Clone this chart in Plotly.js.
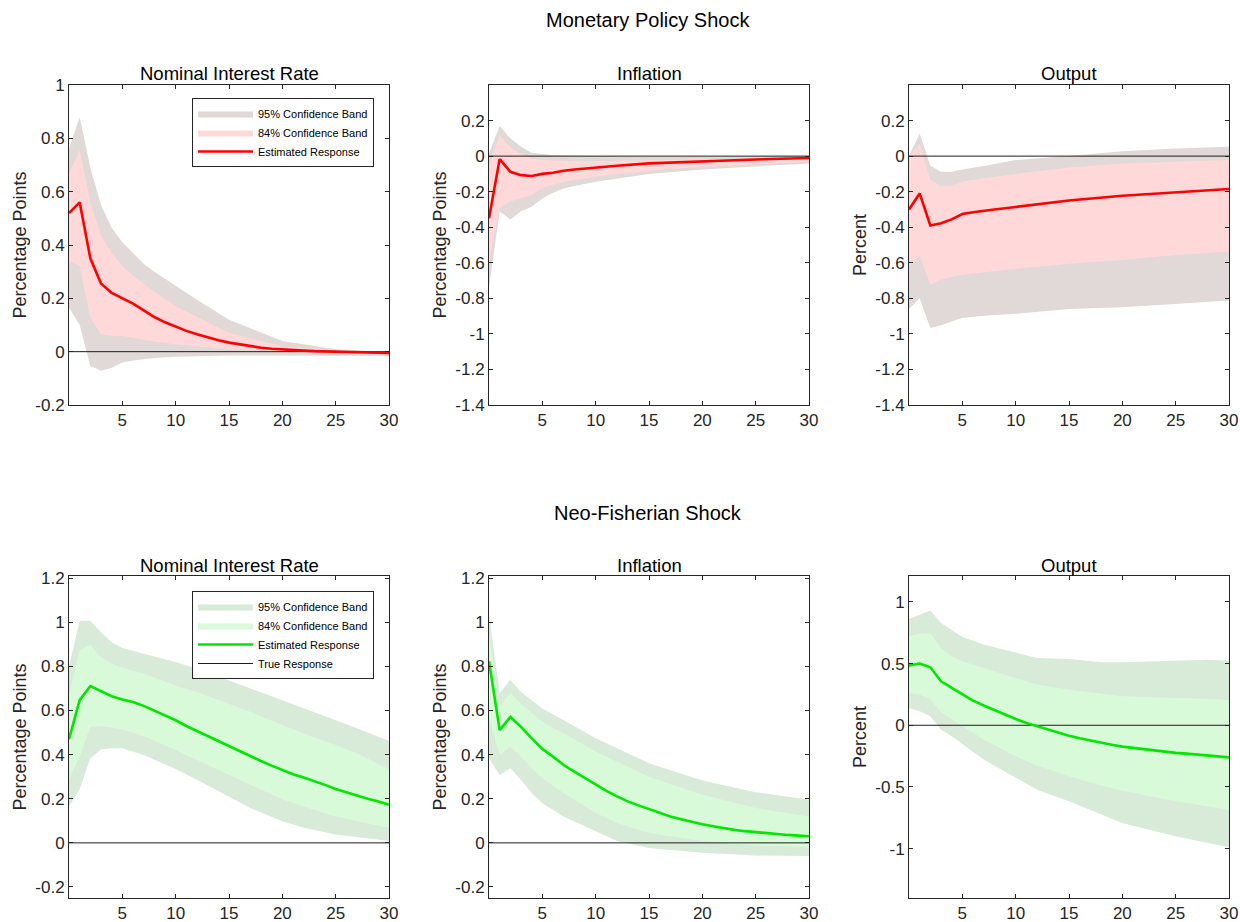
<!DOCTYPE html>
<html>
<head>
<meta charset="utf-8">
<script src="https://cdn.plot.ly/plotly-3.0.1.min.js"></script>
<style>html,body{margin:0;padding:0;background:#fff;}#chart{width:1240px;height:922px;}</style>
</head>
<body>
<div id="chart"></div>
<script>
// ---------- DATA ----------
var horizonsFull = [0,1,2,3,4,5,6,7,8,9,10,11,12,13,14,15,16,17,18,19,20,21,22,23,24,25,26,27,28,29,30];
var xTickVals = [5,10,15,20,25,30];
var xTickText = ["5","10","15","20","25","30"];

// Monetary Policy Shock - Nominal Interest Rate
var mpNirLineH = horizonsFull;
var mpNirLine = [0.52,0.56,0.35,0.256,0.22,0.2,0.18,0.155,0.13,0.11,0.094,0.078,0.065,0.053,0.043,0.034,0.027,0.02,0.015,0.011,0.008,0.006,0.004,0.002,0.001,0,-0.001,-0.002,-0.003,-0.004,-0.005];
var mpNirBandH = [0,1,2,3,4,5,6,7,8,10,12,15,20,25,30];
var mpNirUp95 = [0.76,0.88,0.69,0.55,0.465,0.41,0.37,0.33,0.3,0.246,0.195,0.12,0.04,0.009,0.0];
var mpNirUp84 = [0.665,0.756,0.56,0.434,0.37,0.32,0.285,0.255,0.225,0.17,0.13,0.07,0.02,0.003,-0.002];
var mpNirLo84 = [0.34,0.32,0.128,0.065,0.06,0.059,0.052,0.045,0.038,0.028,0.02,0.01,0.0,-0.004,-0.006];
var mpNirLo95 = [0.165,0.10,-0.054,-0.072,-0.06,-0.041,-0.033,-0.028,-0.024,-0.019,-0.016,-0.014,-0.014,-0.014,-0.016];

// Monetary Policy Shock - Inflation
var mpInfLineH = [0,1,2,3,4,5,6,7,8,10,12,15,20,25,30];
var mpInfLine = [-0.35,-0.017,-0.088,-0.107,-0.112,-0.10,-0.094,-0.082,-0.075,-0.064,-0.054,-0.041,-0.028,-0.019,-0.011];
var mpInfBandH = [0,1,2,3,4,5,6,7,8,10,12,15,20,25,30];
var mpInfUp95 = [0.015,0.17,0.10,0.052,0.019,0.01,0.005,0.003,0.002,0.0,-0.002,-0.003,-0.003,-0.002,0.0];
var mpInfUp84 = [-0.05,0.118,0.05,0.01,-0.013,-0.022,-0.025,-0.027,-0.028,-0.028,-0.026,-0.022,-0.017,-0.013,-0.01];
var mpInfLo84 = [-0.6,-0.29,-0.256,-0.238,-0.219,-0.18,-0.163,-0.144,-0.135,-0.116,-0.103,-0.082,-0.06,-0.045,-0.032];
var mpInfLo95 = [-0.74,-0.31,-0.356,-0.31,-0.285,-0.238,-0.206,-0.182,-0.168,-0.144,-0.125,-0.101,-0.075,-0.056,-0.041];

// Monetary Policy Shock - Output
var mpOutLineH = [0,1,2,3,4,5,6,7,8,10,12,15,20,25,30];
var mpOutLine = [-0.30,-0.21,-0.39,-0.378,-0.356,-0.326,-0.316,-0.307,-0.30,-0.286,-0.27,-0.25,-0.223,-0.204,-0.185];
var mpOutBandH = [0,1,2,3,4,5,7,10,15,20,25,30];
var mpOutUp95 = [0.0,0.127,-0.054,-0.088,-0.088,-0.075,-0.056,-0.022,0.0,0.028,0.043,0.052];
var mpOutUp84 = [-0.004,0.07,-0.135,-0.168,-0.165,-0.144,-0.125,-0.10,-0.064,-0.041,-0.032,-0.022];
var mpOutLo84 = [-0.62,-0.56,-0.724,-0.696,-0.68,-0.668,-0.655,-0.634,-0.606,-0.584,-0.556,-0.537];
var mpOutLo95 = [-0.86,-0.80,-0.967,-0.952,-0.93,-0.911,-0.898,-0.887,-0.86,-0.85,-0.83,-0.812];

// Neo-Fisherian Shock - Nominal Interest Rate
var nfNirLineH = horizonsFull;
var nfNirLine = [0.47,0.647,0.711,0.687,0.665,0.65,0.639,0.621,0.60,0.579,0.556,0.53,0.507,0.484,0.462,0.44,0.415,0.394,0.371,0.35,0.331,0.311,0.296,0.28,0.263,0.244,0.229,0.215,0.2,0.188,0.173];
var nfNirBandH = [0,1,2,3,4,5,7,10,12,15,17,20,22,25,27,30];
var nfNirUp95 = [0.80,1.007,1.007,0.955,0.91,0.884,0.857,0.82,0.79,0.737,0.70,0.647,0.61,0.556,0.52,0.462];
var nfNirUp84 = [0.67,0.875,0.898,0.842,0.812,0.794,0.767,0.714,0.684,0.632,0.594,0.534,0.496,0.444,0.406,0.334];
var nfNirLo84 = [0.286,0.39,0.526,0.53,0.522,0.514,0.484,0.421,0.376,0.308,0.263,0.198,0.165,0.12,0.098,0.068];
var nfNirLo95 = [0.165,0.244,0.383,0.424,0.429,0.429,0.398,0.335,0.286,0.21,0.158,0.098,0.068,0.038,0.027,0.008];

// Neo-Fisherian Shock - Inflation
var nfInfLineH = horizonsFull;
var nfInfLine = [0.824,0.511,0.571,0.526,0.474,0.426,0.391,0.353,0.323,0.293,0.263,0.236,0.211,0.188,0.17,0.153,0.135,0.12,0.107,0.095,0.084,0.075,0.066,0.059,0.053,0.048,0.044,0.039,0.036,0.033,0.03];
var nfInfBandH = [0,1,2,3,4,5,7,10,12,15,20,25,30];
var nfInfUp95 = [1.04,0.677,0.74,0.684,0.647,0.609,0.556,0.474,0.429,0.361,0.283,0.23,0.195];
var nfInfUp84 = [0.95,0.617,0.68,0.632,0.59,0.549,0.496,0.414,0.368,0.30,0.218,0.158,0.12];
var nfInfLo84 = [0.57,0.398,0.436,0.39,0.338,0.293,0.226,0.135,0.09,0.045,0.008,-0.012,-0.018];
var nfInfLo95 = [0.383,0.308,0.338,0.286,0.226,0.18,0.12,0.053,0.008,-0.023,-0.045,-0.057,-0.06];

// Neo-Fisherian Shock - Output
var nfOutLineH = horizonsFull;
var nfOutLine = [0.484,0.5,0.47,0.357,0.303,0.249,0.2,0.16,0.122,0.084,0.051,0.019,-0.008,-0.035,-0.062,-0.084,-0.105,-0.124,-0.14,-0.157,-0.173,-0.184,-0.197,-0.208,-0.216,-0.224,-0.23,-0.238,-0.246,-0.251,-0.26];
var nfOutBandH = [0,1,2,3,4,5,7,10,12,15,18,20,25,28,30];
var nfOutUp95 = [0.862,0.897,0.93,0.83,0.77,0.716,0.654,0.586,0.546,0.538,0.51,0.51,0.527,0.532,0.524];
var nfOutUp84 = [0.722,0.743,0.743,0.627,0.56,0.519,0.465,0.384,0.33,0.289,0.254,0.235,0.222,0.215,0.203];
var nfOutLo84 = [0.262,0.249,0.208,0.105,0.051,-0.008,-0.116,-0.251,-0.327,-0.414,-0.489,-0.53,-0.616,-0.657,-0.689];
var nfOutLo95 = [0.14,0.114,0.073,-0.035,-0.089,-0.151,-0.278,-0.427,-0.522,-0.616,-0.724,-0.792,-0.9,-0.954,-0.986];

// True response (zero line)
var trueH = [0,30];
var trueResp = [0,0];

// Y tick labels
var yTickValsA = [-0.2,0,0.2,0.4,0.6,0.8,1];
var yTickTextA = ["-0.2","0","0.2","0.4","0.6","0.8","1"];
var yTickValsB = [-1.4,-1.2,-1,-0.8,-0.6,-0.4,-0.2,0,0.2];
var yTickTextB = ["-1.4","-1.2","-1","-0.8","-0.6","-0.4","-0.2","0","0.2"];
var yTickValsC = [-0.2,0,0.2,0.4,0.6,0.8,1,1.2];
var yTickTextC = ["-0.2","0","0.2","0.4","0.6","0.8","1","1.2"];
var yTickValsD = [-1,-0.5,0,0.5,1];
var yTickTextD = ["-1","-0.5","0","0.5","1"];

// ---------- BUILD ----------
var FONT = "Liberation Sans, Arial, Helvetica, sans-serif";
var red = {c95: "rgb(225,216,216)", c84: "rgb(255,217,217)", line: "rgb(255,0,0)"};
var green = {c95: "rgb(216,234,216)", c84: "rgb(217,250,217)", line: "rgb(0,230,0)"};

function poly(h, up, lo) {
  var x = h.slice().concat(h.slice().reverse());
  var y = up.slice().concat(lo.slice().reverse());
  return {x: x, y: y};
}

var traces = [];
function panel(n, lineH, line, bandH, up95, up84, lo84, lo95, pal, legendName, showLeg, showTrue) {
  var xa = n === 1 ? "x" : "x" + n;
  var ya = n === 1 ? "y" : "y" + n;
  var p95 = poly(bandH, up95, lo95);
  var p84 = poly(bandH, up84, lo84);
  traces.push({x: p95.x, y: p95.y, xaxis: xa, yaxis: ya, type: "scatter", mode: "lines",
    fill: "toself", fillcolor: pal.c95, line: {width: 0, color: pal.c95},
    name: "95% Confidence Band", showlegend: showLeg, legend: legendName, legendrank: 1, hoverinfo: "skip"});
  traces.push({x: p84.x, y: p84.y, xaxis: xa, yaxis: ya, type: "scatter", mode: "lines",
    fill: "toself", fillcolor: pal.c84, line: {width: 0, color: pal.c84},
    name: "84% Confidence Band", showlegend: showLeg, legend: legendName, legendrank: 2, hoverinfo: "skip"});
  traces.push({x: trueH, y: trueResp, xaxis: xa, yaxis: ya, type: "scatter", mode: "lines",
    line: {width: 1, color: "rgb(30,30,30)"},
    name: "True Response", showlegend: showLeg && showTrue, legend: legendName, legendrank: 4, hoverinfo: "skip"});
  traces.push({x: lineH, y: line, xaxis: xa, yaxis: ya, type: "scatter", mode: "lines",
    line: {width: 2.6, color: pal.line},
    name: "Estimated Response", showlegend: showLeg, legend: legendName, legendrank: 3, hoverinfo: "skip"});
}

panel(1, mpNirLineH, mpNirLine, mpNirBandH, mpNirUp95, mpNirUp84, mpNirLo84, mpNirLo95, red, "legend", true, false);
panel(2, mpInfLineH, mpInfLine, mpInfBandH, mpInfUp95, mpInfUp84, mpInfLo84, mpInfLo95, red, "legend", false, false);
panel(3, mpOutLineH, mpOutLine, mpOutBandH, mpOutUp95, mpOutUp84, mpOutLo84, mpOutLo95, red, "legend", false, false);
panel(4, nfNirLineH, nfNirLine, nfNirBandH, nfNirUp95, nfNirUp84, nfNirLo84, nfNirLo95, green, "legend2", true, true);
panel(5, nfInfLineH, nfInfLine, nfInfBandH, nfInfUp95, nfInfUp84, nfInfLo84, nfInfLo95, green, "legend2", false, true);
panel(6, nfOutLineH, nfOutLine, nfOutBandH, nfOutUp95, nfOutUp84, nfOutLo84, nfOutLo95, green, "legend2", false, true);

var W = 1240, H = 922;
var colX = [[69, 389], [489, 809], [909, 1229]];
var rowY = [[85, 405], [576, 898]];
function dx(c) { return [colX[c][0] / W, colX[c][1] / W]; }
function dy(r) { return [1 - rowY[r][1] / H, 1 - rowY[r][0] / H]; }

var axCol = "#262626";
function xaxis(c, anchor) {
  return {domain: dx(c), anchor: anchor, range: [0, 30], tickmode: "array", tickvals: xTickVals, ticktext: xTickText,
    ticks: "inside", ticklen: 4, tickwidth: 1, tickcolor: axCol, showline: true, linecolor: axCol, linewidth: 1,
    mirror: "ticks", showgrid: false, zeroline: false, tickfont: {family: FONT, size: 17, color: axCol}, fixedrange: true};
}
function yaxis(r, c, anchor, range, tv, tt, title) {
  return {domain: dy(r), anchor: anchor, range: range, tickmode: "array", tickvals: tv, ticktext: tt,
    ticks: "inside", ticklen: 4, tickwidth: 1, tickcolor: axCol, showline: true, linecolor: axCol, linewidth: 1,
    mirror: "ticks", showgrid: false, zeroline: false, tickfont: {family: FONT, size: 17, color: axCol},
    title: {text: title, font: {family: FONT, size: 18, color: axCol}, standoff: 4}, fixedrange: true};
}

function ann(text, xpx, ypx, size) {
  return {text: text, x: xpx / W, y: 1 - ypx / H, xref: "paper", yref: "paper", xanchor: "center", yanchor: "middle",
    showarrow: false, font: {family: FONT, size: size, color: "#000"}};
}

var layout = {
  width: W, height: H, margin: {l: 0, r: 0, t: 0, b: 0}, paper_bgcolor: "#fff", plot_bgcolor: "#fff",
  showlegend: true, hovermode: false,
  xaxis: xaxis(0, "y"), xaxis2: xaxis(1, "y2"), xaxis3: xaxis(2, "y3"),
  xaxis4: xaxis(0, "y4"), xaxis5: xaxis(1, "y5"), xaxis6: xaxis(2, "y6"),
  yaxis: yaxis(0, 0, "x", [-0.2, 1], yTickValsA, yTickTextA, "Percentage Points"),
  yaxis2: yaxis(0, 1, "x2", [-1.4, 0.4], yTickValsB, yTickTextB, "Percentage Points"),
  yaxis3: yaxis(0, 2, "x3", [-1.4, 0.4], yTickValsB, yTickTextB, "Percent"),
  yaxis4: yaxis(1, 0, "x4", [-0.25, 1.21], yTickValsC, yTickTextC, "Percentage Points"),
  yaxis5: yaxis(1, 1, "x5", [-0.25, 1.21], yTickValsC, yTickTextC, "Percentage Points"),
  yaxis6: yaxis(1, 2, "x6", [-1.4, 1.21], yTickValsD, yTickTextD, "Percent"),
  legend: {x: 192 / W, y: 1 - 98 / H, xanchor: "left", yanchor: "top", bgcolor: "#fff", bordercolor: axCol, borderwidth: 1,
    font: {family: FONT, size: 11, color: "#000"}, itemwidth: 55, traceorder: "normal", tracegroupgap: 0},
  legend2: {x: 192 / W, y: 1 - 591 / H, xanchor: "left", yanchor: "top", bgcolor: "#fff", bordercolor: axCol, borderwidth: 1,
    font: {family: FONT, size: 11, color: "#000"}, itemwidth: 55, traceorder: "normal", tracegroupgap: 0},
  annotations: [
    ann("Monetary Policy Shock", 648, 20, 20),
    ann("Neo-Fisherian Shock", 648, 513, 20),
    ann("Nominal Interest Rate", 229, 73, 18.5),
    ann("Inflation", 649, 73, 18.5),
    ann("Output", 1069, 73, 18.5),
    ann("Nominal Interest Rate", 229, 565, 18.5),
    ann("Inflation", 649, 565, 18.5),
    ann("Output", 1069, 565, 18.5)
  ]
};

Plotly.newPlot("chart", traces, layout, {staticPlot: true, displayModeBar: false});
</script>
</body>
</html>
